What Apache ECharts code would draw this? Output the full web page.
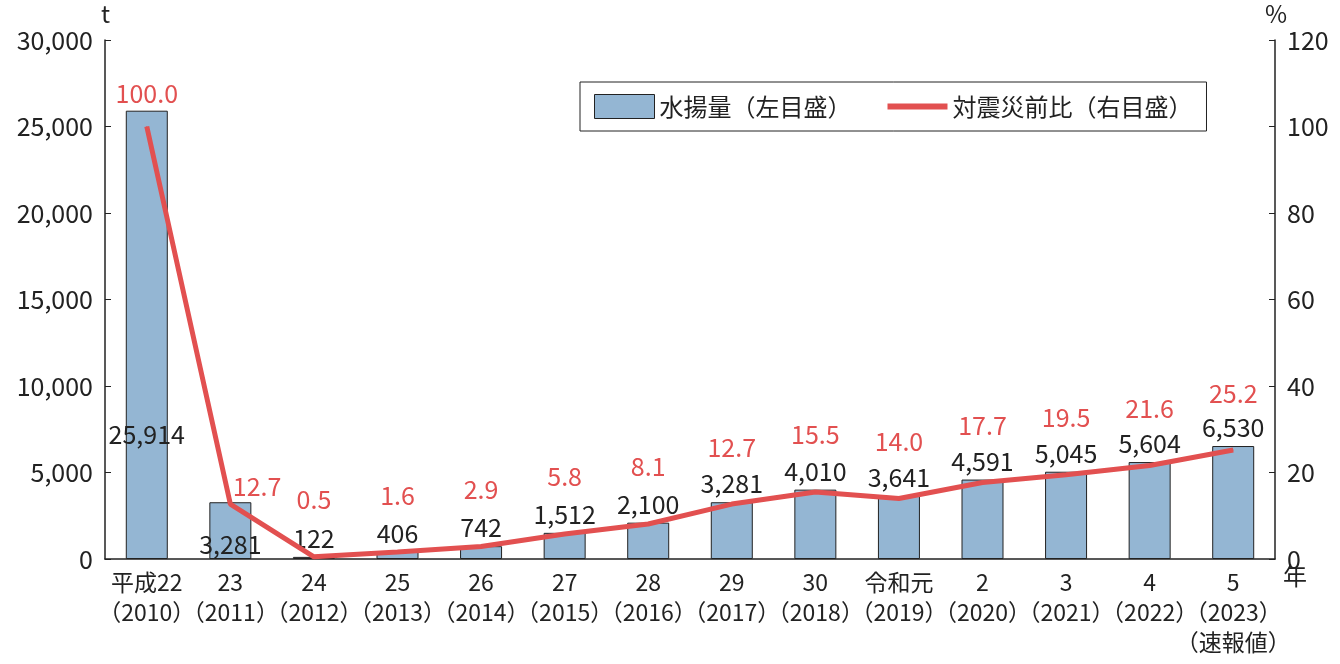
<!DOCTYPE html>
<html><head><meta charset="utf-8">
<script src="https://cdn.jsdelivr.net/npm/echarts@6/dist/echarts.min.js"></script>
<style>html,body{margin:0;background:#fff}#c{width:1340px;height:664px}</style>
</head><body><div id="c"></div>
<script>
var categories = ['平成22\n（2010）', '23\n（2011）', '24\n（2012）', '25\n（2013）', '26\n（2014）', '27\n（2015）', '28\n（2016）', '29\n（2017）', '30\n（2018）', '令和元\n（2019）', '2\n（2020）', '3\n（2021）', '4\n（2022）', '5\n（2023）\n（速報値）'];
var landings = [25914, 3281, 122, 406, 742, 1512, 2100, 3281, 4010, 3641, 4591, 5045, 5604, 6530];
var ratio = [100.0, 12.7, 0.5, 1.6, 2.9, 5.8, 8.1, 12.7, 15.5, 14.0, 17.7, 19.5, 21.6, 25.2];

var font = '"Noto Sans CJK JP", sans-serif';
var myChart = echarts.init(document.getElementById('c'));

var barData = landings.map(function (v, i) {
    var d = { value: v };
    if (i === 0) d.label = { position: 'insideBottom', distance: 112 };
    if (i === 1) d.label = { position: 'insideBottom', distance: 2 };
    return d;
});
var lineData = ratio.map(function (v, i) {
    var d = { value: v };
    if (i === 0) d.label = { distance: 20 };
    if (i === 1) d.label = { position: 'right', distance: 2, offset: [0, -18] };
    return d;
});

var option = {
    textStyle: { fontFamily: font },
    legend: {
        top: 82, left: 580, itemGap: 36,
        padding: [12, 14], borderColor: '#222', borderWidth: 1,
        itemWidth: 60, itemHeight: 24,
        textStyle: { fontSize: 24, color: '#222', fontFamily: font },
        data: [
            { name: '水揚量（左目盛）', icon: 'rect', itemStyle: { borderColor: '#222', borderWidth: 1 } },
            { name: '対震災前比（右目盛）', icon: 'path://M0,0L60,0L60,6L0,6Z', itemStyle: { color: '#e25050' } }
        ]
    },
    grid: { left: 105, right: 65, top: 40, bottom: 105 },
    xAxis: {
        type: 'category', data: categories,
        axisLine: { lineStyle: { color: '#222', width: 1.5 } },
        axisTick: { show: false },
        axisLabel: { fontSize: 23, color: '#222', lineHeight: 30, margin: 8, interval: 0 }
    },
    yAxis: [
        {
            type: 'value', min: 0, max: 30000, interval: 5000,
            splitLine: { show: false },
            axisLine: { show: true, lineStyle: { color: '#222', width: 1.5 } },
            axisTick: { show: true, inside: true, length: 6 },
            axisLabel: { fontSize: 25, color: '#222', margin: 12, formatter: function (v) { return v.toLocaleString('en-US'); } }
        },
        {
            type: 'value', min: 0, max: 120, interval: 20,
            splitLine: { show: false },
            axisLine: { show: true, lineStyle: { color: '#222', width: 1.5 } },
            axisTick: { show: true, inside: true, length: 6 },
            axisLabel: { fontSize: 25, color: '#222', margin: 12 }
        }
    ],
    graphic: [
        { type: 'text', left: 101, top: 2, style: { text: 't', fontSize: 24, fill: '#222', fontFamily: font } },
        { type: 'text', left: 1265, top: 2, style: { text: '%', fontSize: 24, fill: '#222', fontFamily: font } },
        { type: 'text', left: 1283, top: 564, style: { text: '年', fontSize: 24, fill: '#222', fontFamily: font } }
    ],
    series: [
        {
            name: '水揚量（左目盛）', type: 'bar', barWidth: 42, data: barData,
            itemStyle: { color: '#94b6d3', borderColor: '#222', borderWidth: 1 },
            label: {
                show: true, position: 'top', distance: 6, fontSize: 25, color: '#222',
                formatter: function (p) { return p.value.toLocaleString('en-US'); }
            }
        },
        {
            name: '対震災前比（右目盛）', type: 'line', yAxisIndex: 1, data: lineData,
            symbol: 'circle', symbolSize: 1, showSymbol: true,
            lineStyle: { color: '#e25050', width: 5 }, itemStyle: { color: '#e25050' },
            label: {
                show: true, position: 'top', distance: 44, fontSize: 25, color: '#e25050',
                formatter: function (p) { return p.value.toFixed(1); }
            },
            z: 5
        }
    ]
};
myChart.setOption(option);
window.addEventListener('resize', myChart.resize);
</script>
</body></html>
